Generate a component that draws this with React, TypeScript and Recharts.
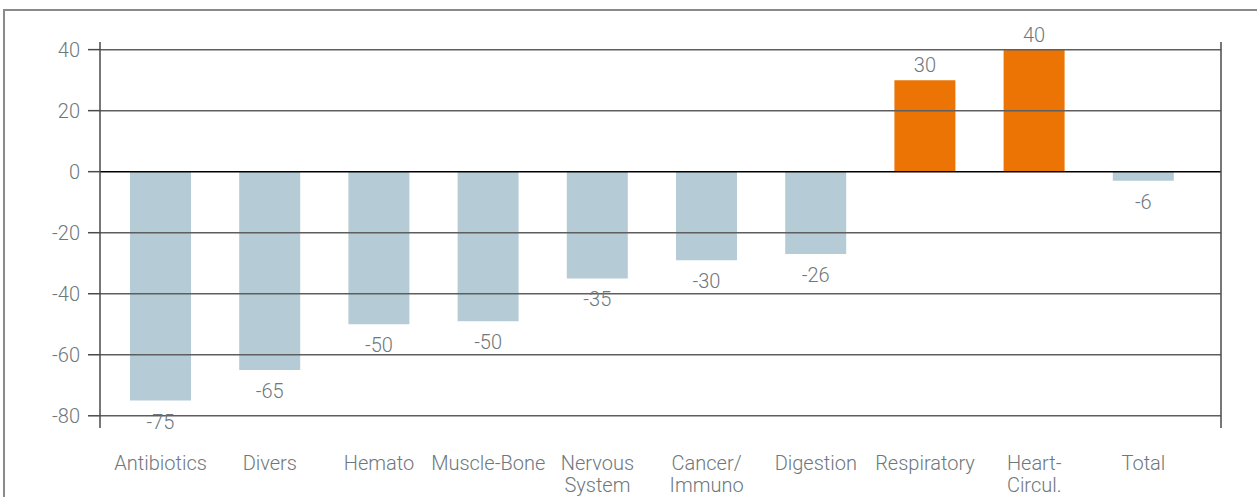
import { BarChart, Bar, XAxis, YAxis, ReferenceLine, LabelList, Cell } from "recharts";

const categories = [
  "Antibiotics",
  "Divers",
  "Hemato",
  "Muscle-Bone",
  "Nervous\nSystem",
  "Cancer/\nImmuno",
  "Digestion",
  "Respiratory",
  "Heart-\nCircul.",
  "Total",
];
const barValues = [-75, -65, -50, -49, -35, -29, -27, 30, 40, -3];
const valueLabels = ["-75", "-65", "-50", "-50", "-35", "-30", "-26", "30", "40", "-6"];
const yTicks = [-80, -60, -40, -20, 0, 20, 40];

const FONT = "Roboto, 'Liberation Sans', sans-serif";
const TEXT = "#6e787c";
const BLUE = "#b5cbd5";
const ORANGE = "#eb7405";

const data = categories.map((name, i) => ({ name, value: barValues[i], label: valueLabels[i] }));

function CategoryTick({ x, y, payload }: any) {
  const lines = String(payload.value).split("\n");
  return (
    <text x={x} y={y} textAnchor="middle" fill={TEXT} fontSize={20} fontFamily={FONT} fontWeight={300}>
      {lines.map((l, i) => (
        <tspan key={i} x={x} dy={i === 0 ? 34 : 22}>
          {l}
        </tspan>
      ))}
    </text>
  );
}

function ValueLabel({ x, y, width, height, value }: any) {
  const top = Math.min(y, y + height);
  const bottom = Math.max(y, y + height);
  const neg = String(value).startsWith("-");
  return (
    <text
      x={x + width / 2}
      y={neg ? bottom + 28 : top - 8}
      textAnchor="middle"
      fill={TEXT}
      fontSize={20}
      fontFamily={FONT}
      fontWeight={300}
    >
      {value}
    </text>
  );
}

export default function App() {
  return (
    <div style={{ position: "absolute", left: 0, top: 0, width: 1257, height: 497, background: "#fff", overflow: "hidden" }}>
      <div
        style={{
          position: "absolute",
          left: 3,
          top: 9,
          width: 1300,
          height: 600,
          borderTop: "2px solid #8a8a8a",
          borderLeft: "2px solid #8a8a8a",
        }}
      />
      <BarChart
        width={1257}
        height={497}
        data={data}
        margin={{ top: 42, right: 0, bottom: 0, left: 0 }}
        style={{ position: "absolute", left: 0, top: 0 }}
      >
        <XAxis
          dataKey="name"
          xAxisId={0}
          axisLine={false}
          tickLine={false}
          interval={0}
          padding={{ left: 6, right: 23 }}
          tick={<CategoryTick />}
          height={69}
        />
        <YAxis
          yAxisId={0}
          width={100}
          domain={[-84, 42.5]}
          ticks={yTicks}
          allowDataOverflow
          axisLine={{ stroke: "#4a4a4a", strokeWidth: 1.5 }}
          tickLine={{ stroke: "#4a4a4a", strokeWidth: 1.5 }}
          tickSize={12}
          tickMargin={8}
          tick={{ fill: TEXT, fontSize: 20, fontFamily: FONT, fontWeight: 300 }}
        />
        <YAxis
          yAxisId="r"
          orientation="right"
          width={36}
          domain={[-84, 42.5]}
          ticks={yTicks}
          allowDataOverflow
          axisLine={{ stroke: "#4a4a4a", strokeWidth: 1.5 }}
          tickLine={{ stroke: "#4a4a4a", strokeWidth: 1.5 }}
          tickSize={9}
          tick={false}
        />
        {yTicks.map((t) => (
          <ReferenceLine
            key={t}
            y={t}
            yAxisId={0}
            stroke={t === 0 ? "#000" : "#5e5e5e"}
            strokeWidth={1.5}
          />
        ))}
        <Bar dataKey="value" yAxisId={0} barSize={61} isAnimationActive={false}>
          {data.map((d, i) => (
            <Cell key={i} fill={d.value > 0 ? ORANGE : BLUE} />
          ))}
          <LabelList dataKey="label" content={<ValueLabel />} />
        </Bar>
      </BarChart>
    </div>
  );
}
